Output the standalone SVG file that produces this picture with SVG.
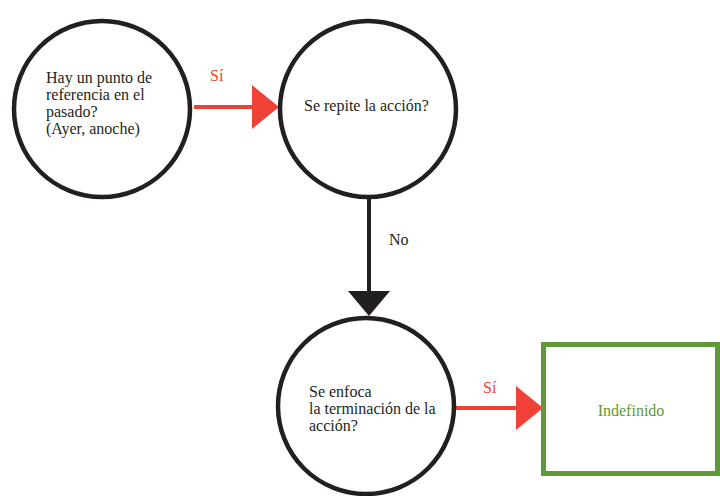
<svg xmlns="http://www.w3.org/2000/svg" width="720" height="496" viewBox="0 0 720 496">
<style>
.node{fill:#fff;stroke:#231f20;stroke-width:4.5}
.red{fill:#ef4136}
.lr{stroke:#ef4136;stroke-width:4;fill:none}
.lk{stroke:#231f20;stroke-width:4;fill:none}
.green{fill:#5e9a37}
</style>
<rect width="720" height="496" fill="#fff"/>
<g font-family="Liberation Serif, DejaVu Serif, serif" font-size="16" fill="#231f20">
<g id="connectors">
<line class="lr" x1="194" y1="107" x2="253" y2="107"/>
<polygon class="red" points="252,85 279,107 252,129"/>
<text class="red" x="210" y="81">Sí</text>
<line class="lk" x1="369" y1="199" x2="369" y2="292"/>
<polygon fill="#231f20" points="348,291 390,291 369,316"/>
<text x="389" y="245">No</text>
<line class="lr" x1="455" y1="408" x2="518" y2="408"/>
<polygon class="red" points="516,386 543,408 516,430"/>
<text class="red" x="483" y="393">Sí</text>
</g>
<g id="n1">
<circle class="node" cx="102" cy="109" r="88"/>
<text><tspan x="46" y="83">Hay un punto de</tspan><tspan x="46" y="100">referencia en el</tspan><tspan x="46" y="117">pasado?</tspan><tspan x="46" y="134">(Ayer, anoche)</tspan></text>
</g>
<g id="n2">
<circle class="node" cx="368" cy="109" r="88"/>
<text x="304" y="111">Se repite la acción?</text>
</g>
<g id="n3">
<circle class="node" cx="366" cy="406" r="88"/>
<text><tspan x="309" y="397">Se enfoca</tspan><tspan x="309" y="414">la terminación de la</tspan><tspan x="309" y="431">acción?</tspan></text>
</g>
<g id="n4">
<rect x="543.5" y="344.5" width="174" height="129" fill="#fff" stroke="#5e9a37" stroke-width="5"/>
<text class="green" x="631" y="416" text-anchor="middle">Indefinido</text>
</g>
</g>
</svg>
